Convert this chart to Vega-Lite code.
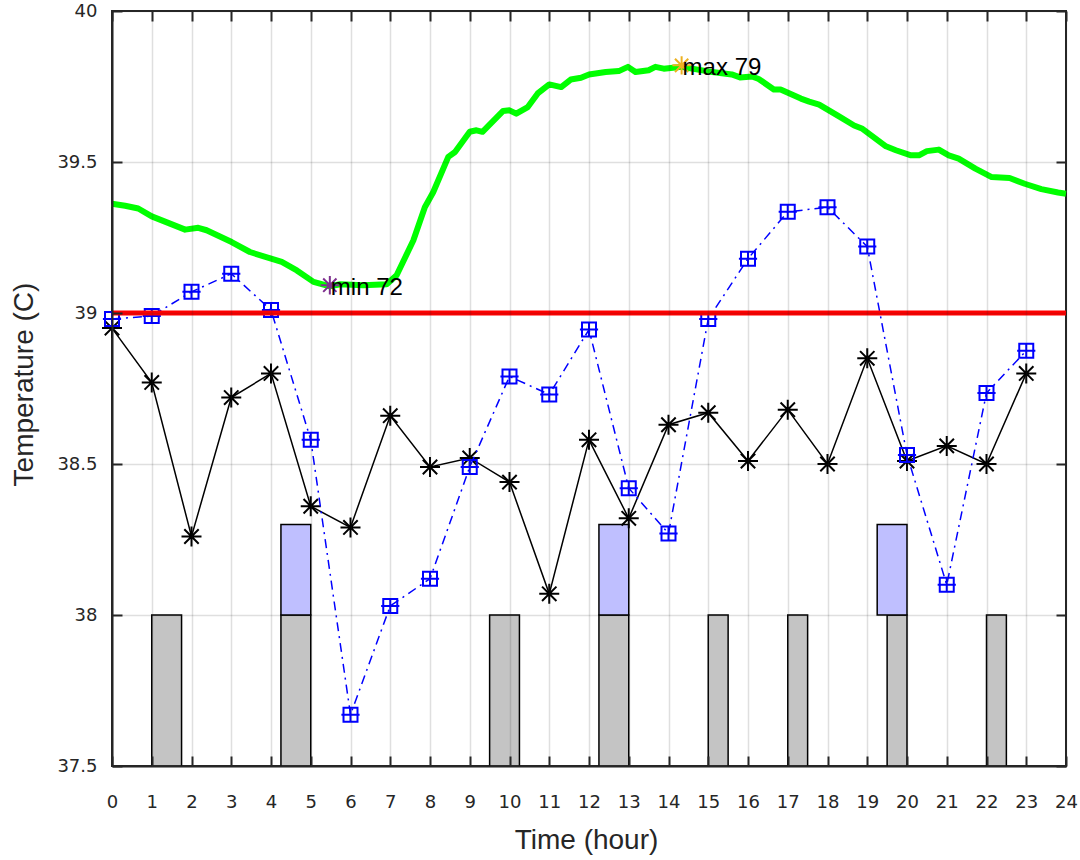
{
  "$schema": "https://vega.github.io/schema/vega-lite/v6.json",
  "width": 954,
  "height": 755,
  "autosize": "none",
  "padding": {"left": 112, "top": 11, "right": 14, "bottom": 94},
  "background": "white",
  "config": {
    "view": {"stroke": "#262626", "strokeWidth": 2},
    "axis": {
      "domainColor": "#262626",
      "domainWidth": 2,
      "tickColor": "#262626",
      "tickWidth": 2,
      "labelColor": "#262626",
      "labelFont": "DejaVu Sans",
      "labelFontSize": 18,
      "titleFont": "Liberation Sans",
      "titleFontSize": 28,
      "titleFontWeight": "normal",
      "titleColor": "#262626",
      "gridColor": "#262626",
      "gridOpacity": 0.15,
      "gridWidth": 1.5
    }
  },
  "datasets": {
    "bars": [
      {"x": 1, "x2": 1.75, "y": 37.5, "y2": 38, "kind": "gray"},
      {"x": 4.25, "x2": 5, "y": 37.5, "y2": 38, "kind": "gray"},
      {"x": 9.5, "x2": 10.25, "y": 37.5, "y2": 38, "kind": "gray"},
      {"x": 12.25, "x2": 13, "y": 37.5, "y2": 38, "kind": "gray"},
      {"x": 15, "x2": 15.5, "y": 37.5, "y2": 38, "kind": "gray"},
      {"x": 17, "x2": 17.5, "y": 37.5, "y2": 38, "kind": "gray"},
      {"x": 19.5, "x2": 20, "y": 37.5, "y2": 38, "kind": "gray"},
      {"x": 22, "x2": 22.5, "y": 37.5, "y2": 38, "kind": "gray"},
      {"x": 4.25, "x2": 5, "y": 38, "y2": 38.3, "kind": "purple"},
      {"x": 12.25, "x2": 13, "y": 38, "y2": 38.3, "kind": "purple"},
      {"x": 19.25, "x2": 20, "y": 38, "y2": 38.3, "kind": "purple"}
    ],
    "black": [
      {"hour": 0, "temp": 38.95}, {"hour": 1, "temp": 38.77}, {"hour": 2, "temp": 38.26},
      {"hour": 3, "temp": 38.72}, {"hour": 4, "temp": 38.80}, {"hour": 5, "temp": 38.36},
      {"hour": 6, "temp": 38.29}, {"hour": 7, "temp": 38.66}, {"hour": 8, "temp": 38.49},
      {"hour": 9, "temp": 38.52}, {"hour": 10, "temp": 38.44}, {"hour": 11, "temp": 38.07},
      {"hour": 12, "temp": 38.58}, {"hour": 13, "temp": 38.32}, {"hour": 14, "temp": 38.63},
      {"hour": 15, "temp": 38.67}, {"hour": 16, "temp": 38.51}, {"hour": 17, "temp": 38.68},
      {"hour": 18, "temp": 38.50}, {"hour": 19, "temp": 38.85}, {"hour": 20, "temp": 38.51},
      {"hour": 21, "temp": 38.56}, {"hour": 22, "temp": 38.50}, {"hour": 23, "temp": 38.80}
    ],
    "blue": [
      {"hour": 0, "temp": 38.98}, {"hour": 1, "temp": 38.99}, {"hour": 2, "temp": 39.07},
      {"hour": 3, "temp": 39.13}, {"hour": 4, "temp": 39.01}, {"hour": 5, "temp": 38.58},
      {"hour": 6, "temp": 37.67}, {"hour": 7, "temp": 38.03}, {"hour": 8, "temp": 38.12},
      {"hour": 9, "temp": 38.49}, {"hour": 10, "temp": 38.79}, {"hour": 11, "temp": 38.73},
      {"hour": 12, "temp": 38.945}, {"hour": 13, "temp": 38.42}, {"hour": 14, "temp": 38.27},
      {"hour": 15, "temp": 38.98}, {"hour": 16, "temp": 39.18}, {"hour": 17, "temp": 39.335},
      {"hour": 18, "temp": 39.35}, {"hour": 19, "temp": 39.22}, {"hour": 20, "temp": 38.53},
      {"hour": 21, "temp": 38.10}, {"hour": 22, "temp": 38.735}, {"hour": 23, "temp": 38.875}
    ],
    "green": [
      {"hour": 0, "temp": 39.362}, {"hour": 0.33, "temp": 39.355}, {"hour": 0.66, "temp": 39.346},
      {"hour": 1.0, "temp": 39.32}, {"hour": 1.46, "temp": 39.296}, {"hour": 1.84, "temp": 39.276},
      {"hour": 2.17, "temp": 39.282}, {"hour": 2.38, "temp": 39.274}, {"hour": 3.01, "temp": 39.235},
      {"hour": 3.47, "temp": 39.202}, {"hour": 4.27, "temp": 39.169}, {"hour": 4.65, "temp": 39.141},
      {"hour": 5.07, "temp": 39.103}, {"hour": 5.48, "temp": 39.088}, {"hour": 5.74, "temp": 39.095},
      {"hour": 6.32, "temp": 39.092}, {"hour": 6.91, "temp": 39.095}, {"hour": 7.16, "temp": 39.125},
      {"hour": 7.58, "temp": 39.24}, {"hour": 7.87, "temp": 39.35}, {"hour": 8.08, "temp": 39.40},
      {"hour": 8.46, "temp": 39.517}, {"hour": 8.63, "temp": 39.533}, {"hour": 9.0, "temp": 39.60},
      {"hour": 9.17, "temp": 39.605}, {"hour": 9.32, "temp": 39.60}, {"hour": 9.84, "temp": 39.669},
      {"hour": 10.0, "temp": 39.671}, {"hour": 10.17, "temp": 39.66}, {"hour": 10.46, "temp": 39.682},
      {"hour": 10.71, "temp": 39.727}, {"hour": 11.0, "temp": 39.757}, {"hour": 11.3, "temp": 39.748},
      {"hour": 11.54, "temp": 39.773}, {"hour": 11.8, "temp": 39.779}, {"hour": 12.0, "temp": 39.79},
      {"hour": 12.42, "temp": 39.798}, {"hour": 12.75, "temp": 39.801}, {"hour": 12.98, "temp": 39.815},
      {"hour": 13.17, "temp": 39.798}, {"hour": 13.5, "temp": 39.804}, {"hour": 13.67, "temp": 39.815},
      {"hour": 13.88, "temp": 39.809}, {"hour": 14.17, "temp": 39.813}, {"hour": 14.33, "temp": 39.815},
      {"hour": 15.0, "temp": 39.80}, {"hour": 15.59, "temp": 39.79}, {"hour": 15.8, "temp": 39.78},
      {"hour": 16.1, "temp": 39.783}, {"hour": 16.27, "temp": 39.775}, {"hour": 16.65, "temp": 39.74},
      {"hour": 16.82, "temp": 39.74}, {"hour": 17.33, "temp": 39.71}, {"hour": 17.54, "temp": 39.70},
      {"hour": 17.79, "temp": 39.69}, {"hour": 18.29, "temp": 39.651}, {"hour": 18.67, "temp": 39.621},
      {"hour": 18.88, "temp": 39.61}, {"hour": 19.47, "temp": 39.552}, {"hour": 19.72, "temp": 39.539},
      {"hour": 20.1, "temp": 39.522}, {"hour": 20.3, "temp": 39.522}, {"hour": 20.5, "temp": 39.536},
      {"hour": 20.8, "temp": 39.541}, {"hour": 21.05, "temp": 39.522}, {"hour": 21.3, "temp": 39.511},
      {"hour": 21.72, "temp": 39.478}, {"hour": 22.13, "temp": 39.45}, {"hour": 22.58, "temp": 39.447},
      {"hour": 22.96, "temp": 39.428}, {"hour": 23.38, "temp": 39.41}, {"hour": 23.8, "temp": 39.399},
      {"hour": 24.0, "temp": 39.395}
    ],
    "extremes": [
      {"hour": 5.48, "temp": 39.092, "label": "min 72", "kind": "min"},
      {"hour": 14.33, "temp": 39.82, "label": "max 79", "kind": "max"}
    ]
  },
  "layer": [
    {
      "data": {"name": "bars"},
      "mark": {"type": "rect", "stroke": "#000000", "strokeWidth": 1.5},
      "encoding": {
        "x": {
          "field": "x", "type": "quantitative",
          "scale": {"domain": [0, 24], "nice": false, "zero": false},
          "axis": {
            "orient": "bottom",
            "values": [0,1,2,3,4,5,6,7,8,9,10,11,12,13,14,15,16,17,18,19,20,21,22,23,24],
            "title": "Time (hour)",
            "tickSize": -10,
            "labelPadding": 37,
            "labelFlush": false,
            "grid": true,
            "zindex": 1,
            "titleX": 474,
            "titleY": 82,
            "titleBaseline": "alphabetic"
          }
        },
        "x2": {"field": "x2"},
        "y": {
          "field": "y", "type": "quantitative",
          "scale": {"domain": [37.5, 40], "nice": false, "zero": false},
          "axis": {
            "orient": "left",
            "values": [37.5, 38, 38.5, 39, 39.5, 40],
            "labelExpr": "'' + datum.value",
            "title": "Temperature (C)",
            "tickSize": -10,
            "labelPadding": 25,
            "labelFlush": false,
            "grid": true,
            "zindex": 1,
            "titleX": -80,
            "titleY": 373,
            "titleBaseline": "alphabetic"
          }
        },
        "y2": {"field": "y2"},
        "color": {
          "field": "kind", "type": "nominal",
          "scale": {"domain": ["gray", "purple"], "range": ["#C4C4C4", "#BFBFFF"]},
          "legend": null
        }
      }
    },
    {
      "data": {"name": "black"},
      "mark": {"type": "line", "color": "#000000", "strokeWidth": 1.5},
      "encoding": {
        "x": {
          "field": "hour", "type": "quantitative",
          "scale": {"domain": [0, 24], "nice": false, "zero": false},
          "axis": {
            "orient": "top",
            "values": [0,1,2,3,4,5,6,7,8,9,10,11,12,13,14,15,16,17,18,19,20,21,22,23,24],
            "labels": false, "title": null, "grid": false, "domain": false,
            "tickSize": -10
          }
        },
        "y": {
          "field": "temp", "type": "quantitative",
          "scale": {"domain": [37.5, 40], "nice": false, "zero": false},
          "axis": {
            "orient": "right",
            "values": [37.5, 38, 38.5, 39, 39.5, 40],
            "labels": false, "title": null, "grid": false, "domain": false,
            "tickSize": -10
          }
        }
      }
    },
    {
      "data": {"name": "black"},
      "mark": {"type": "point", "shape": "M0,-1V1M-1,0H1M-0.72,-0.72L0.72,0.72M-0.72,0.72L0.72,-0.72", "filled": false, "stroke": "#000000", "strokeWidth": 2, "size": 400, "opacity": 1},
      "encoding": {
        "x": {"field": "hour", "type": "quantitative", "scale": {"domain": [0, 24], "nice": false, "zero": false}, "axis": null},
        "y": {"field": "temp", "type": "quantitative", "scale": {"domain": [37.5, 40], "nice": false, "zero": false}, "axis": null}
      }
    },
    {
      "data": {"name": "blue"},
      "mark": {"type": "line", "color": "#0000FF", "strokeWidth": 1.5, "strokeDash": [9, 5, 2, 5]},
      "encoding": {
        "x": {"field": "hour", "type": "quantitative", "scale": {"domain": [0, 24], "nice": false, "zero": false}, "axis": null},
        "y": {"field": "temp", "type": "quantitative", "scale": {"domain": [37.5, 40], "nice": false, "zero": false}, "axis": null}
      }
    },
    {
      "data": {"name": "blue"},
      "mark": {"type": "point", "shape": "M-1,-1H1V1H-1Z M-1.3,0H1.3 M0,-1V1", "filled": false, "stroke": "#0000FF", "strokeWidth": 2, "size": 196, "opacity": 1},
      "encoding": {
        "x": {"field": "hour", "type": "quantitative", "scale": {"domain": [0, 24], "nice": false, "zero": false}, "axis": null},
        "y": {"field": "temp", "type": "quantitative", "scale": {"domain": [37.5, 40], "nice": false, "zero": false}, "axis": null}
      }
    },
    {
      "data": {"name": "green"},
      "mark": {"type": "line", "color": "#00FF00", "strokeWidth": 6, "strokeJoin": "round"},
      "encoding": {
        "x": {"field": "hour", "type": "quantitative", "scale": {"domain": [0, 24], "nice": false, "zero": false}, "axis": null},
        "y": {"field": "temp", "type": "quantitative", "scale": {"domain": [37.5, 40], "nice": false, "zero": false}, "axis": null}
      }
    },
    {
      "data": {"values": [{"limit": 39}]},
      "mark": {"type": "rule", "color": "#FF0000", "strokeWidth": 5},
      "encoding": {
        "y": {"field": "limit", "type": "quantitative", "scale": {"domain": [37.5, 40], "nice": false, "zero": false}, "axis": null}
      }
    },
    {
      "data": {"name": "extremes"},
      "mark": {"type": "point", "shape": "M0,-1V1M-1,0H1M-0.72,-0.72L0.72,0.72M-0.72,0.72L0.72,-0.72", "filled": false, "strokeWidth": 2, "size": 340, "opacity": 1},
      "encoding": {
        "x": {"field": "hour", "type": "quantitative", "scale": {"domain": [0, 24], "nice": false, "zero": false}, "axis": null},
        "y": {"field": "temp", "type": "quantitative", "scale": {"domain": [37.5, 40], "nice": false, "zero": false}, "axis": null},
        "stroke": {
          "field": "kind", "type": "nominal",
          "scale": {"domain": ["min", "max"], "range": ["#7E2F8E", "#EDB120"]},
          "legend": null
        }
      }
    },
    {
      "data": {"name": "extremes"},
      "mark": {"type": "text", "align": "left", "baseline": "middle", "dx": 1, "dy": 3, "font": "Liberation Sans", "fontSize": 24, "color": "#000000"},
      "encoding": {
        "x": {"field": "hour", "type": "quantitative", "scale": {"domain": [0, 24], "nice": false, "zero": false}, "axis": null},
        "y": {"field": "temp", "type": "quantitative", "scale": {"domain": [37.5, 40], "nice": false, "zero": false}, "axis": null},
        "text": {"field": "label"}
      }
    }
  ],
  "resolve": {"axis": {"x": "independent", "y": "independent"}}
}
